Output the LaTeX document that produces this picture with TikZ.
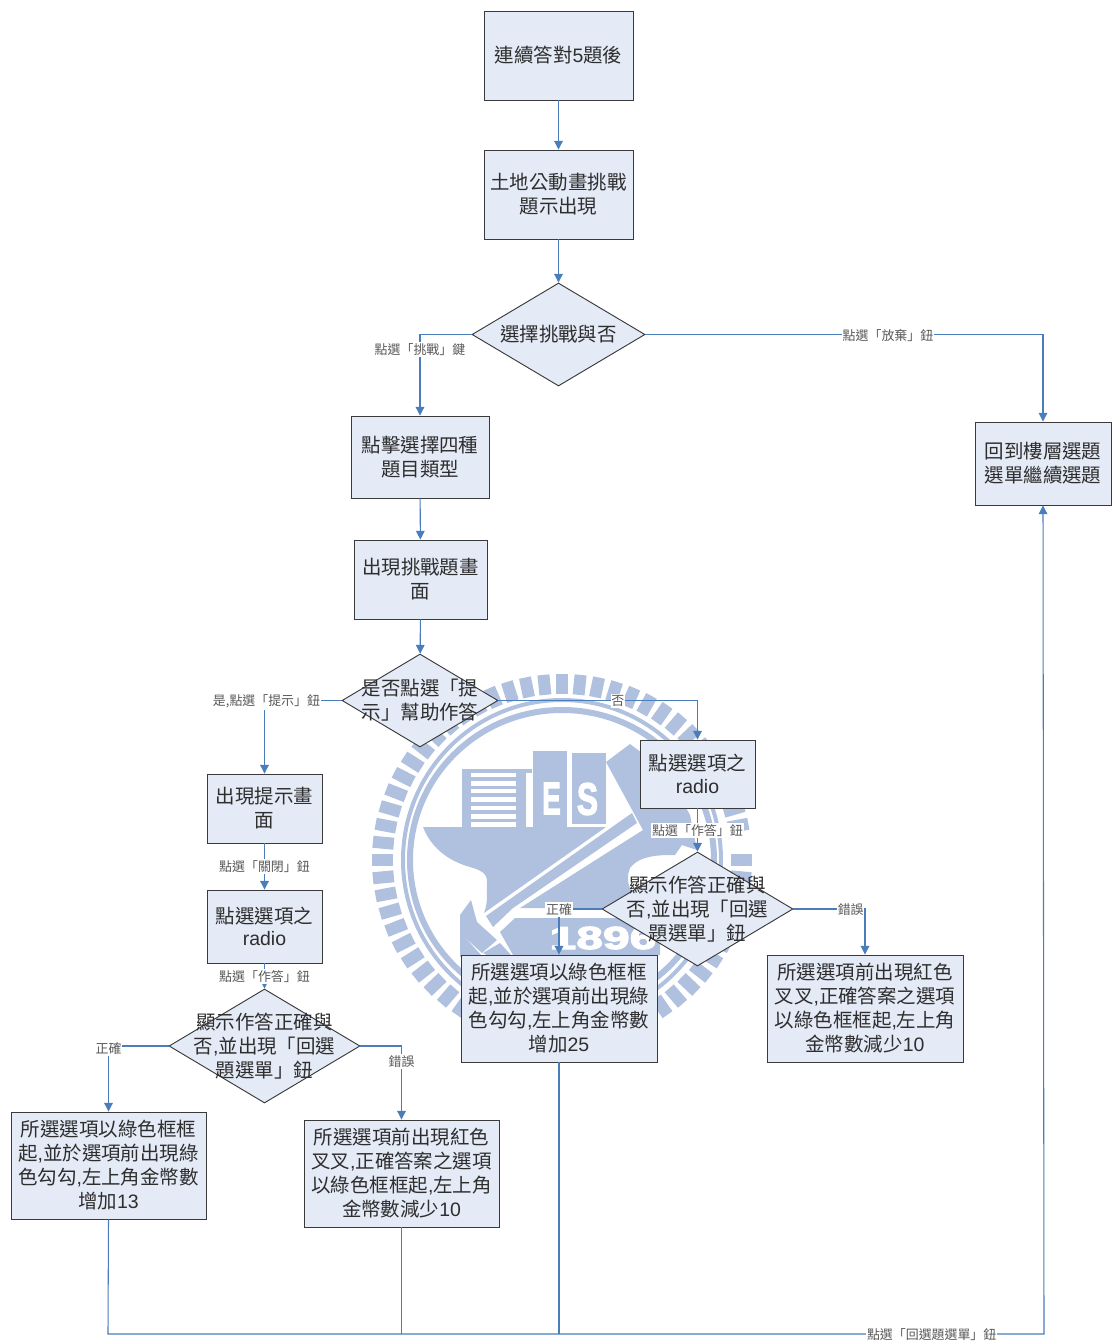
\documentclass[tikz,border=0pt]{standalone}
\usepackage{fontspec}
\usepackage{graphicx}
\usetikzlibrary{arrows.meta,shapes.geometric}
\setmainfont{Noto Sans CJK TC}
\newfontfamily\lsf{Liberation Sans}
\newfontfamily\wmbold[BoldFeatures={FakeBold=3}]{Liberation Sans}
\newcommand{\lat}[1]{{\lsf #1}}
\definecolor{wm}{HTML}{B0C0DF}
\definecolor{bfill}{HTML}{E4EAF6}
\definecolor{conn}{HTML}{4A7EBB}
\definecolor{bline}{HTML}{3A3A3A}
\tikzset{
  box/.style={draw=bline,fill=bfill,line width=.7pt,inner sep=0pt,align=center,text=black!82,font=\fontsize{14.6}{18}\selectfont},
  dia/.style={draw=bline,fill=bfill,line width=.7pt,inner sep=0pt,shape=diamond},
  diatxt/.style={align=center,text=black!82,font=\fontsize{14.6}{18}\selectfont,inner sep=0pt},
  conn/.style={draw=conn,line width=.8pt,-{Triangle[length=6.5pt,width=6.5pt]}},
  plain/.style={draw=conn,line width=.8pt},
  lab/.style={fill=white,inner xsep=.6pt,inner ysep=1.2pt,yshift=-.6pt,text=black!65,font=\fontsize{9.7}{11}\selectfont},
  wmf/.style={fill=wm,draw=none},
  wmtick/.style={draw=wm,line width=9pt},
  wmtxt/.style={text=white,inner sep=0pt}
}
\newcommand{\bx}[6]{\node[box,minimum width={(#4-#2)*.75pt},minimum height={(#5-#3)*.75pt}] (#1) at ({(#2+#4)/2},{(#3+#5)/2}) {#6};}
\newcommand{\dm}[6]{\node[dia,minimum width={(#4-#2)*.75pt},minimum height={(#5-#3)*.75pt},label={[diatxt]center:{#6}}] (#1) at ({(#2+#4)/2},{(#3+#5)/2}) {};}
\begin{document}
\begin{tikzpicture}[x=.75pt,y=-.75pt]
\useasboundingbox (0,0) rectangle (1111,1342);
% watermark
\foreach \a in {0,5.625,...,354}{
  \draw[wmtick] ({562+169*cos(\a)},{860+166*sin(\a)}) -- ({562+190*cos(\a)},{860+186*sin(\a)});
}
\draw[wm,line width=3pt] (562,860) ellipse [x radius=159,y radius=160];
\draw[wm,line width=4.5pt] (562,860) ellipse [x radius=152,y radius=150];
% buildings
\fill[wmf] (462,769) rectangle (516,827);
\foreach \p/\q in {773/777,781/786,789/793,797/802,806/810,814/819,822/827}{\fill[white] (471,\p) rectangle (516,\q);}
\fill[wmf] (516,769) rectangle (532,773);
\fill[wmf] (516,773) rectangle (526,827);
\fill[wmf] (533,751) rectangle (567,827);
\fill[wmf] (572,753) rectangle (606,824);
\node[wmtxt,font=\fontsize{34}{34}\selectfont\wmbold\bfseries] (wE) at (551.5,798.5) {\scalebox{.62}[1]{E}};
\node[wmtxt,font=\fontsize{34}{34}\selectfont\wmbold\bfseries] (wS) at (587.5,799) {\scalebox{.7}[1]{S}};
% anvil
\fill[wmf] (423,827) -- (606,827) -- (484,913) .. controls (489,900) and (486,890) .. (487,883) .. controls (488,873) and (480,870) .. (470,867) .. controls (445,860) and (430,845) .. (423,827) -- cycle;
% handle band
\fill[wmf] (486,916) -- (632,813) -- (637,823) -- (513,908) -- (493,927) -- cycle;
% hammer head upper
\fill[wmf] (606,762) -- (630,744) -- (665,770) -- (690,815) -- (643,830) -- cycle;
% right body
\fill[wmf] (520,908) -- (643,830) -- (650,812) -- (690,815) -- (697,850) -- (682,845) -- (675,855) .. controls (660,855) and (640,855) .. (630,868) .. controls (625,880) and (630,890) .. (634,895) -- (620,908) -- cycle;
% pedestal
\fill[wmf] (500,932) -- (515,918) -- (660,918) -- (660,955) -- (513,955) -- cycle;
% hammer head lower
\fill[wmf] (471,900) -- (460,915) -- (460,933) -- (482,953) -- (497,940) -- (477,922) -- cycle;
\fill[wmf] (460,932) -- (460,957) -- (483,957) -- cycle;
\fill[wmf] (483,953) -- (500,943) -- (513,957) -- (490,957) -- cycle;
\node[wmtxt,font=\fontsize{24}{24}\selectfont\wmbold\bfseries] (w1896) at (603,938) {\scalebox{1.5}[1]{1896}};
% boxes
\bx{A}{484}{11}{633}{100}{連續答對\lat{5}題後}
\bx{B}{484}{150}{633}{239}{土地公動畫挑戰\\題示出現}
\dm{D1}{472}{283}{645}{386}{選擇挑戰與否}
\bx{C}{351}{416}{489}{498}{點擊選擇四種\\題目類型}
\bx{E}{354}{540}{487}{619}{出現挑戰題畫\\面}
\dm{D2}{342}{654}{498}{747}{是否點選「提\\示」幫助作答}
\bx{F}{207}{774}{322}{843}{出現提示畫\\面}
\bx{G}{207}{890}{322}{963}{點選選項之\\[-1pt]\lat{radio}}
\dm{D3}{169}{989}{360}{1103}{顯示作答正確與\\否\lat{,}並出現「回選\\題選單」鈕}
\bx{H}{11}{1112}{206}{1219}{所選選項以綠色框框\\起\lat{,}並於選項前出現綠\\色勾勾\lat{,}左上角金幣數\\增加\lat{13}}
\bx{I}{304}{1120}{499}{1227}{所選選項前出現紅色\\叉叉\lat{,}正確答案之選項\\以綠色框框起\lat{,}左上角\\金幣數減少\lat{10}}
\bx{J}{640}{740}{755}{808}{點選選項之\\[-1pt]\lat{radio}}
\dm{D4}{602}{852}{793}{966}{顯示作答正確與\\否\lat{,}並出現「回選\\題選單」鈕}
\bx{K}{461}{955}{657}{1062}{所選選項以綠色框框\\起\lat{,}並於選項前出現綠\\色勾勾\lat{,}左上角金幣數\\增加\lat{25}}
\bx{L}{767}{955}{963}{1062}{所選選項前出現紅色\\叉叉\lat{,}正確答案之選項\\以綠色框框起\lat{,}左上角\\金幣數減少\lat{10}}
\bx{M}{975}{422}{1111}{505}{回到樓層選題\\選單繼續選題}
\coordinate (b1) at (108,1334);
\coordinate (b2) at (1044,1334);
% connectors
\draw[conn] (A) -- (B);
\draw[conn] (B) -- (D1);
\draw[conn] (D1.west) -| node[lab,pos=.586] {點選「挑戰」鍵} (C.north);
\draw[conn] (D1.east) -| node[lab,pos=.305] {點選「放棄」鈕} (M.north);
\draw[conn] (C) -- (E);
\draw[conn] (E) -- (D2);
\draw[conn] (D2.west) -| node[lab,pos=.487] {是,點選「提示」鈕} (F.north);
\draw[conn] (D2.east) -| node[lab,pos=.3] {否} (J.north);
\draw[conn] (F) -- node[lab,pos=.49] {點選「關閉」鈕} (G);
\draw[conn] (G) -- node[lab,pos=.5] {點選「作答」鈕} (D3);
\draw[conn] (D3.west) -| node[lab,pos=.515] {正確} (H.north);
\draw[conn] (D3.east) -| node[lab,pos=.6] {錯誤} (I.north);
\draw[conn] (J) -- node[lab,pos=.5] {點選「作答」鈕} (D4);
\draw[conn] (D4.west) -| node[lab,pos=.5] {正確} (K.north);
\draw[conn] (D4.east) -| node[lab,pos=.4] {錯誤} (L.north);
\draw[plain] (I.south) -- (I.south |- b1);
\draw[plain] (K.south) -- (K.south |- b1);
\draw[conn] (H.south) -- (b1) -- node[lab,pos=.88] {點選「回選題選單」鈕} (b2) -- (M.south);
\end{tikzpicture}
\end{document}
